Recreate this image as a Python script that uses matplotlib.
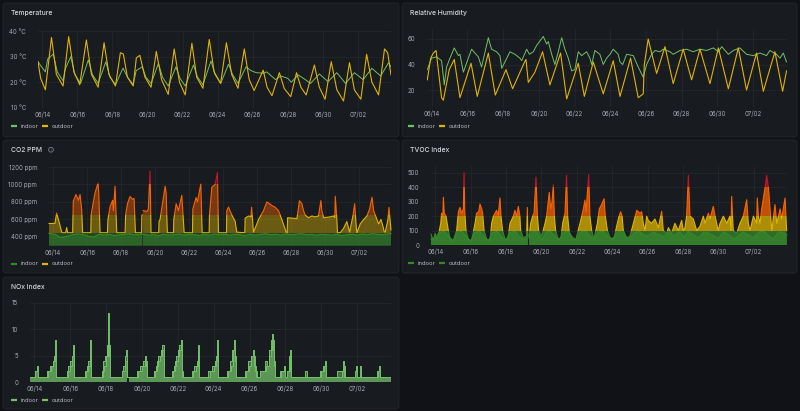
import matplotlib.pyplot as plt
import matplotlib.dates as mdates
import numpy as np
from datetime import datetime
from matplotlib.patches import FancyBboxPatch, Rectangle, Circle
from matplotlib.lines import Line2D
from matplotlib.ticker import FuncFormatter
from matplotlib.transforms import IdentityTransform

plt.rcParams['font.family'] = ['Inter', 'DejaVu Sans']

# Zeit: Tage ab 06/14 00:00
T0 = mdates.date2num(datetime(2025, 6, 14))
X_RANGE = (-0.25, 19.89)
nan = np.nan

# ---------------- Daten (Tag, Wert) ----------------
TEMP_IN = [(-0.25, 28), (-0.1, 26.5), (0.17, 24), (0.3, 29), (0.62, 31), (0.85, 24), (1.18, 20.5),
           (1.3, 25), (1.62, 30), (1.85, 23), (2.18, 19.5), (2.62, 28.7), (2.85, 23), (3.18, 19.5),
           (3.62, 28), (3.85, 22), (4.17, 19), (4.6, 25.5), (4.85, 22), (5.18, 19), (5.35, 24.5),
           (5.7, 26), (5.9, 22), (6.2, 19.5), (6.62, 27.3), (6.85, 22), (7.18, 18.5), (7.62, 26),
           (7.85, 21.5), (8.15, 18.5), (8.62, 26.7), (8.85, 22), (9.16, 19), (9.62, 28.3), (9.85, 23),
           (10.17, 19.5), (10.62, 27), (10.85, 23), (11.16, 19.5), (11.62, 26), (11.9, 24.5),
           (12.2, 23.7), (12.6, 23.5), (12.8, 24), (13.3, 21), (13.6, 22.4), (14.0, 21.5), (14.2, 20),
           (14.6, 22.8), (15.0, 21), (15.3, 19.5), (15.8, 23.2), (16.3, 20.2), (16.8, 23.7),
           (17.3, 19.5), (17.8, 23.7), (18.3, 21), (18.8, 25.4), (19.3, 22.4), (19.75, 27.6), (19.89, 26)]
TEMP_OUT = [(-0.25, 28), (-0.1, 21.5), (0.17, 17), (0.52, 37.5), (0.8, 23), (1.18, 18.5), (1.5, 37.8),
            (1.8, 24), (2.13, 19), (2.51, 36.5), (2.8, 23), (3.18, 18), (3.52, 35.4), (3.8, 23),
            (4.17, 18.5), (4.45, 31.5), (4.62, 31), (4.85, 22), (5.18, 18.5), (5.36, 29.5), (5.56, 30.5),
            (5.85, 22), (6.2, 18), (6.5, 32), (6.8, 21), (7.18, 15.2), (7.52, 33), (7.82, 20), (8.15, 15),
            (8.53, 35.2), (8.8, 22), (9.16, 17.6), (9.52, 36.7), (9.8, 24), (10.17, 19.5), (10.5, 35.4),
            (10.8, 23), (11.16, 17.6), (11.52, 33), (11.8, 21), (12.08, 16.7), (12.6, 24.7), (12.82, 18),
            (13.1, 14.7), (13.52, 23.7), (13.8, 17.5), (14.17, 14.3), (14.5, 23.7), (14.75, 18),
            (15.05, 15), (15.52, 26.7), (15.8, 18), (16.13, 13.3), (16.48, 28), (16.8, 17), (17.18, 12.6),
            (17.52, 27.6), (17.8, 17), (18.17, 13.3), (18.5, 30.9), (18.8, 20), (19.18, 15), (19.52, 33),
            (19.7, 31.5), (19.89, 22.8)]

HUM_IN = [(-0.25, 36), (-0.01, 45), (0.27, 46), (0.55, 43), (0.7, 24), (0.83, 38), (1.02, 45), (1.26, 53),
          (1.49, 47), (1.58, 48), (1.77, 34), (2.05, 45), (2.23, 52), (2.61, 46), (2.79, 38), (3.17, 61),
          (3.35, 52), (3.63, 50), (3.82, 47), (3.92, 37), (4.1, 42), (4.38, 50), (4.66, 48), (4.94, 45),
          (5.04, 43), (5.32, 52), (5.47, 48), (5.69, 50), (5.88, 55), (6.25, 62), (6.44, 56), (6.53, 58),
          (6.72, 48), (6.9, 40), (7.09, 50), (7.28, 61), (7.46, 52), (7.65, 45), (7.84, 35), (8.02, 36),
          (8.21, 50), (8.4, 47), (8.68, 50), (8.86, 45), (8.96, 40), (9.14, 51), (9.42, 48), (9.61, 40),
          (9.8, 45), (9.99, 48), (10.17, 52), (10.45, 48), (10.55, 42), (10.7, 40), (10.92, 48),
          (11.29, 47), (11.57, 38), (11.85, 30), (12.04, 40), (12.32, 48), (12.51, 51), (12.79, 50),
          (12.97, 52), (13.35, 50), (13.53, 48), (13.91, 51), (14.28, 52), (14.65, 50), (15.03, 52),
          (15.4, 51), (15.78, 53), (16.06, 50), (16.25, 54), (16.62, 48), (16.9, 51), (17.27, 53),
          (17.64, 48), (18.02, 47), (18.39, 49), (18.76, 47), (18.95, 51), (19.32, 48), (19.51, 45),
          (19.7, 49), (19.88, 42)]
HUM_OUT = [(-0.25, 28), (-0.06, 45), (0.09, 49), (0.24, 51), (0.55, 14), (0.65, 12), (0.98, 36),
           (1.26, 44), (1.58, 14), (2.2, 41), (2.55, 15), (3.17, 49), (3.56, 16), (4.16, 36), (4.53, 21),
           (5.17, 41), (5.28, 44), (5.41, 26), (5.78, 34), (6.21, 50), (6.62, 24), (7.22, 49), (7.56, 13),
           (8.21, 41), (8.55, 15), (9.05, 42), (9.61, 17), (10.17, 43), (10.55, 15), (11.14, 45),
           (11.57, 14), (11.85, 17), (11.91, 40), (12.13, 60), (12.6, 33), (13.07, 54), (13.53, 25),
           (14.09, 52), (14.56, 28), (15.03, 52), (15.59, 25), (16.06, 53), (16.62, 21), (17.18, 53),
           (17.64, 20), (18.2, 49), (18.58, 19), (19.23, 50), (19.66, 19), (19.88, 35)]

CO2_IN = [(-0.25, 440), (0.1, 430), (0.4, 395), (0.6, 400), (0.9, 410), (1.2, 430), (1.5, 435),
          (1.8, 425), (2.1, 405), (2.4, 400), (2.7, 430), (3.0, 420), (3.3, 430), (3.6, 415), (3.9, 425),
          (4.2, 430), (4.5, 438), (4.8, 425), (5.1, 430), (5.25, 435), (5.27, nan), (5.29, 430),
          (5.6, 420), (5.9, 425), (6.2, 415), (6.5, 430), (6.8, 420), (7.1, 425), (7.4, 435), (7.7, 420),
          (8.0, 430), (8.3, 425), (8.6, 415), (8.9, 430), (9.2, 420), (9.5, 435), (9.8, 425), (10.1, 430),
          (10.4, 420), (10.7, 430), (11.0, 425), (11.3, 415), (11.6, 430), (11.9, 420), (12.2, 430),
          (12.5, 438), (12.8, 425), (13.1, 430), (13.4, 420), (13.7, 435), (14.0, 425), (14.3, 430),
          (14.6, 438), (14.9, 425), (15.2, 430), (15.5, 420), (15.8, 430), (16.1, 425), (16.4, 420),
          (16.7, 430), (17.0, 415), (17.3, 425), (17.6, 430), (17.9, 420), (18.2, 435), (18.5, 425),
          (18.8, 438), (19.1, 430), (19.4, 425), (19.7, 436), (19.89, 438)]
CO2_OUT = [(-0.25, 554), (0.1, 555), (0.2, 673), (0.36, 560), (0.5, 455), (0.55, 448), (0.73, 448),
           (0.79, 508), (0.85, 448), (1.14, 448), (1.18, 808), (1.34, 885), (1.48, 820), (1.58, 885),
           (1.68, 700), (1.73, 448), (2.21, 448), (2.23, 650), (2.36, 800), (2.46, 904), (2.6, 992),
           (2.64, 1019), (2.68, 900), (2.76, 448), (3.19, 448), (3.22, 600), (3.35, 750), (3.5, 820),
           (3.54, 700), (3.64, 981), (3.74, 448), (4.23, 448), (4.26, 650), (4.37, 780), (4.52, 862),
           (4.68, 830), (4.76, 840), (4.84, 448), (5.2, 448), (5.22, 650), (5.25, 655), (5.27, nan),
           (5.29, 700), (5.35, 700), (5.51, 690), (5.6, 720), (5.7, 1154), (5.76, 448), (6.21, 448),
           (6.23, 577), (6.29, 600), (6.45, 800), (6.59, 981), (6.65, 900), (6.72, 448), (7.08, 448),
           (7.1, 600), (7.24, 780), (7.37, 700), (7.57, 877), (7.71, 448), (8.2, 448), (8.22, 720),
           (8.41, 850), (8.49, 800), (8.69, 1008), (8.77, 448), (9.18, 448), (9.2, 650), (9.34, 969),
           (9.53, 1000), (9.67, 1135), (9.73, 448), (10.2, 448), (10.22, 700), (10.32, 742), (10.52, 650),
           (10.71, 580), (10.81, 455), (11.28, 448), (11.3, 615), (11.5, 640), (11.64, 630), (11.68, 740),
           (11.79, 455), (11.89, 500), (12.09, 600), (12.38, 700), (12.58, 800), (12.68, 790),
           (12.87, 760), (13.07, 740), (13.27, 700), (13.46, 600), (13.72, 455), (13.78, 448),
           (13.8, 620), (14.35, 610), (14.5, 815), (14.64, 780), (14.74, 700), (14.84, 650), (15.03, 620),
           (15.23, 640), (15.43, 630), (15.62, 640), (15.76, 815), (15.82, 700), (15.92, 620),
           (16.31, 630), (16.51, 640), (16.58, 620), (16.61, 865), (16.7, 600), (16.74, 448), (16.9, 448),
           (17.1, 500), (17.29, 577), (17.45, 455), (17.65, 642), (17.75, 780), (17.85, 500), (17.88, 448),
           (18.08, 550), (18.28, 600), (18.47, 640), (18.63, 720), (18.77, 854), (18.87, 700),
           (19.06, 600), (19.16, 550), (19.3, 600), (19.42, 520), (19.49, 460), (19.55, 455), (19.71, 600),
           (19.77, 738), (19.89, 480)]

TVOC_IN = [(-0.25, 75), (-0.12, 30), (-0.02, 80), (0.07, 40), (0.16, 60), (0.22, 100), (0.3, 150),
           (0.35, 220), (0.42, 200), (0.45, 330), (0.5, 220), (0.6, 200), (0.73, 100), (0.82, 50),
           (1.01, 30), (1.2, 100), (1.3, 230), (1.39, 260), (1.48, 220), (1.58, 250), (1.62, 500),
           (1.66, 230), (1.73, 100), (1.86, 40), (2.05, 30), (2.24, 150), (2.33, 220), (2.45, 230),
           (2.52, 283), (2.62, 250), (2.67, 220), (2.75, 100), (2.9, 40), (3.1, 35), (3.18, 150),
           (3.28, 200), (3.46, 240), (3.55, 200), (3.65, 325), (3.71, 200), (3.8, 100), (3.94, 40),
           (4.1, 45), (4.22, 150), (4.41, 200), (4.5, 240), (4.6, 200), (4.69, 267), (4.78, 200),
           (4.82, 100), (4.97, 50), (5.16, 60), (5.2, 260), (5.23, 60), (5.26, nan), (5.3, 60),
           (5.39, 150), (5.5, 200), (5.58, 220), (5.69, 470), (5.77, 200), (5.84, 100), (6.01, 60),
           (6.2, 150), (6.29, 200), (6.44, 364), (6.52, 250), (6.6, 300), (6.67, 417), (6.73, 200),
           (6.8, 100), (6.95, 40), (7.1, 50), (7.2, 150), (7.33, 220), (7.42, 481), (7.48, 200),
           (7.56, 100), (7.71, 40), (7.95, 40), (8.18, 150), (8.37, 250), (8.46, 311), (8.52, 230),
           (8.67, 486), (8.74, 200), (8.84, 100), (8.97, 40), (9.16, 150), (9.27, 250), (9.4, 280),
           (9.54, 320), (9.61, 200), (9.73, 100), (9.88, 50), (10.1, 45), (10.29, 150), (10.39, 200),
           (10.48, 230), (10.56, 200), (10.63, 100), (10.82, 50), (11.0, 60), (11.2, 150), (11.39, 240),
           (11.57, 220), (11.67, 230), (11.76, 150), (11.86, 100), (11.95, 200), (12.04, 170),
           (12.23, 150), (12.42, 180), (12.61, 120), (12.8, 233), (12.89, 100), (13.08, 80), (13.18, 120),
           (13.36, 80), (13.55, 150), (13.74, 100), (13.93, 170), (14.02, 100), (14.12, 120), (14.21, 200),
           (14.31, 481), (14.4, 200), (14.59, 180), (14.78, 100), (14.97, 130), (15.16, 200), (15.25, 150),
           (15.44, 220), (15.53, 180), (15.72, 267), (15.82, 200), (16.0, 100), (16.1, 150), (16.29, 200),
           (16.48, 150), (16.66, 200), (16.72, 100), (16.76, 336), (16.85, 100), (17.04, 80), (17.23, 150),
           (17.42, 200), (17.61, 313), (17.7, 150), (17.8, 100), (17.99, 200), (18.17, 150), (18.21, 325),
           (18.27, 200), (18.36, 150), (18.46, 250), (18.55, 320), (18.65, 400), (18.74, 481), (18.84, 400),
           (18.93, 250), (19.03, 100), (19.21, 280), (19.31, 150), (19.5, 250), (19.59, 180), (19.78, 325),
           (19.87, 100)]
TVOC_OUT = [(-0.25, 40), (0.0, 50), (0.2, 85), (0.5, 95), (0.75, 60), (1.0, 25), (1.2, 90), (1.5, 95),
            (1.75, 55), (2.0, 25), (2.2, 85), (2.5, 95), (2.75, 55), (3.0, 25), (3.2, 85), (3.5, 95),
            (3.75, 55), (4.0, 30), (4.2, 85), (4.5, 95), (4.75, 60), (5.0, 35), (5.23, 50), (5.26, nan),
            (5.3, 45), (5.45, 90), (5.7, 95), (5.9, 55), (6.05, 35), (6.25, 90), (6.5, 95), (6.8, 55),
            (7.0, 30), (7.25, 90), (7.5, 95), (7.75, 55), (8.0, 30), (8.2, 90), (8.5, 95), (8.8, 55),
            (9.0, 35), (9.2, 90), (9.5, 95), (9.8, 55), (10.0, 35), (10.3, 90), (10.5, 95), (10.8, 50),
            (11.0, 40), (11.2, 80), (11.5, 95), (11.8, 70), (12.0, 60), (12.3, 90), (12.6, 75), (12.9, 60),
            (13.2, 85), (13.5, 65), (13.8, 90), (14.1, 55), (14.3, 95), (14.6, 70), (14.9, 50), (15.2, 90),
            (15.5, 80), (15.8, 60), (16.0, 45), (16.3, 90), (16.6, 70), (16.9, 40), (17.1, 60), (17.4, 90),
            (17.7, 70), (18.0, 50), (18.3, 90), (18.6, 95), (18.9, 60), (19.1, 40), (19.4, 90), (19.7, 85),
            (19.89, 70)]

NOX_IN = [(-0.25, 1), (0.03, 2), (0.15, 3), (0.22, 1), (0.68, 2), (0.72, 1), (0.77, 2), (0.87, 3),
          (1.01, 4), (1.11, 5), (1.16, 8), (1.2, 1), (1.8, 2), (1.89, 3), (1.98, 4), (2.07, 5), (2.15, 7),
          (2.2, 1), (2.82, 2), (2.91, 3), (3.0, 4), (3.1, 8), (3.15, 1), (3.75, 2), (3.85, 4), (3.93, 5),
          (4.03, 7), (4.12, 13), (4.16, 5), (4.22, 1), (4.86, 2), (4.96, 3), (5.05, 5), (5.1, 6), (5.16, 1),
          (5.24, nan), (5.27, 1), (5.7, 2), (5.89, 3), (6.07, 4), (6.18, 5), (6.24, 3), (6.3, 1), (6.67, 2),
          (6.78, 3), (6.91, 5), (7.04, 6), (7.13, 7), (7.2, 3), (7.25, 1), (7.69, 2), (7.78, 3), (7.9, 5),
          (8.08, 7), (8.18, 8), (8.24, 2), (8.28, 1), (8.77, 2), (8.92, 3), (9.05, 4), (9.15, 7), (9.2, 1),
          (9.7, 2), (9.89, 3), (10.07, 4), (10.18, 8), (10.24, 1), (10.72, 2), (10.91, 4), (11.04, 6),
          (11.13, 8), (11.2, 5), (11.25, 1), (11.75, 2), (11.93, 4), (12.06, 5), (12.18, 6), (12.27, 3),
          (12.35, 1), (12.58, 2), (12.86, 4), (12.95, 3), (13.1, 6), (13.25, 9), (13.32, 6), (13.38, 3),
          (13.42, 1), (13.7, 2), (13.92, 3), (13.97, 1), (14.07, 2), (14.24, 6), (14.29, 1), (15.09, 2),
          (15.2, 1), (15.93, 2), (16.12, 3), (16.23, 4), (16.28, 1), (16.86, 2), (17.21, 4), (17.28, 1),
          (17.88, 2), (17.93, 3), (17.98, 1), (18.16, 3), (18.22, 1), (19.09, 2), (19.22, 3), (19.27, 1),
          (19.89, 1)]
NOX_OUT = [(-0.25, 1), (0.05, 2), (0.2, 1), (0.75, 2), (0.9, 3), (1.05, 4), (1.15, 6), (1.2, 1),
           (1.85, 2), (2.0, 3), (2.12, 5), (2.2, 1), (2.85, 2), (3.0, 3), (3.1, 5), (3.15, 1), (3.8, 2),
           (3.9, 3), (4.0, 5), (4.1, 7), (4.2, 1), (4.9, 2), (5.05, 4), (5.15, 1), (5.24, nan), (5.27, 1),
           (5.8, 2), (6.0, 3), (6.15, 4), (6.28, 1), (6.72, 2), (6.85, 4), (7.0, 5), (7.12, 6), (7.22, 1),
           (7.72, 2), (7.85, 4), (8.0, 6), (8.15, 7), (8.25, 1), (8.85, 2), (9.0, 3), (9.12, 5), (9.2, 1),
           (9.8, 2), (10.0, 3), (10.15, 5), (10.22, 1), (10.8, 2), (10.95, 3), (11.08, 6), (11.2, 4),
           (11.25, 1), (11.8, 2), (11.95, 3), (12.1, 5), (12.3, 2), (12.4, 1), (12.6, 2), (12.9, 3),
           (13.1, 5), (13.22, 8), (13.35, 4), (13.42, 1), (13.75, 2), (13.95, 1), (14.1, 2), (14.22, 5),
           (14.29, 1), (16.0, 2), (16.15, 3), (16.28, 1), (17.15, 2), (17.25, 3), (17.3, 1), (17.9, 2),
           (17.98, 1), (18.15, 2), (18.22, 1), (19.15, 2), (19.27, 1), (19.89, 1)]

# Grafana Farben
BG = '#111217'
PANEL = '#181b1f'
BORDER = '#24272c'
GRID = '#26292e'
TICK = '#a9aab4'
TITLE = '#d4d5dc'
GREEN = '#73BF69'
DGREEN = '#37872D'
DYELLOW = '#E0B400'
DORANGE = '#FA6400'
DRED = '#C4162A'

W, H = 800, 411
fig = plt.figure(figsize=(W / 100, H / 100), dpi=100)
fig.patch.set_facecolor(BG)


def series(pairs):
    a = np.array(pairs, dtype=float)
    return T0 + a[:, 0], a[:, 1]


def panel(x, y, w, h, title):
    p = FancyBboxPatch((x, H - y - h), w, h, boxstyle='round,pad=0,rounding_size=3',
                       transform=IdentityTransform(), fc=PANEL, ec=BORDER, lw=0.6, zorder=-5)
    fig.add_artist(p)
    fig.text((x + 8) / W, 1 - (y + 10) / H, title, color=TITLE, fontsize=4.9,
             fontweight='medium', va='center', ha='left')


def make_ax(l, t, r, b, ylim, yticks, unit=''):
    ax = fig.add_axes([l / W, 1 - b / H, (r - l) / W, (b - t) / H])
    ax.set_facecolor('none')
    ax.set_xlim(T0 + X_RANGE[0], T0 + X_RANGE[1])
    ax.set_ylim(*ylim)
    ax.set_yticks(yticks)
    ax.yaxis.set_major_formatter(FuncFormatter(lambda v, p: f'{v:.0f}{unit}'))
    ax.xaxis.set_major_locator(mdates.DayLocator(bymonthday=range(2, 32, 2)))
    ax.xaxis.set_major_formatter(mdates.DateFormatter('%m/%d'))
    ax.tick_params(length=0, labelsize=4.4, colors=TICK)
    ax.tick_params(axis='y', pad=8.5)
    ax.tick_params(axis='x', pad=2.4)
    for s in ax.spines.values():
        s.set_visible(False)
    ax.grid(True, color=GRID, lw=0.5)
    ax.set_axisbelow(True)
    return ax


def legend(x, y, items):
    for i, (label, col) in enumerate(items):
        x0 = x + i * 31
        fig.add_artist(Line2D([x0 / W, (x0 + 5.5) / W], [1 - y / H] * 2, transform=fig.transFigure,
                              color=col, lw=1.6, solid_capstyle='butt'))
        fig.text((x0 + 9.3) / W, 1 - y / H, label, color='#bcbdc6', fontsize=4.2, va='center', ha='left')


def banded(ax, x, y, bands, base, alpha, lw=0.8):
    # Schwellwert-Farben: Fläche und Linie je Band einfärben
    for lo, hi, col in bands:
        clip = Rectangle((x[0] - 5, lo), 40, hi - lo, transform=ax.transData)
        f = ax.fill_between(x, base, y, color=col, alpha=alpha, lw=0)
        f.set_clip_path(clip)
        ln, = ax.plot(x, y, color=col, lw=lw)
        ln.set_clip_path(clip)


# Panels
panel(3, 3, 396, 134, 'Temperature')
panel(402, 3, 395, 134, 'Relative Humidity')
panel(3, 140, 396, 133, 'CO2 PPM')
panel(402, 140, 395, 133, 'TVOC Index')
panel(3, 277, 396, 132, 'NOx Index')

# Info-Symbol neben CO2 PPM
fig.add_artist(Circle((51, H - 149.7), 2.4, transform=IdentityTransform(), fill=False,
                      ec='#8e8f99', lw=0.5))
fig.text(51 / W, 1 - 149.9 / H, 'i', color='#8e8f99', fontsize=2.6, ha='center', va='center')

# Temperature
ax = make_ax(38, 29.5, 391, 107.7, (10, 40.6), [10, 20, 30, 40], ' °C')
x, y = series(TEMP_IN)
ax.plot(x, y, color=GREEN, lw=0.7)
x, y = series(TEMP_OUT)
ax.plot(x, y, color=DYELLOW, lw=0.8)
legend(11, 126.5, [('indoor', GREEN), ('outdoor', DYELLOW)])

# Relative Humidity
ax = make_ax(427.3, 29.3, 786.7, 107, (6.7, 67.6), [20, 40, 60])
x, y = series(HUM_IN)
ax.plot(x, y, color=GREEN, lw=0.7)
x, y = series(HUM_OUT)
ax.plot(x, y, color=DYELLOW, lw=0.8)
legend(408, 126.3, [('indoor', GREEN), ('outdoor', DYELLOW)])

# CO2
co2_bands = [(-1e4, 442, DGREEN), (442, 650, DYELLOW), (650, 1000, DORANGE), (1000, 1e4, DRED)]
ax = make_ax(49, 167, 391, 245.7, (300, 1200), [400, 600, 800, 1000, 1200], ' ppm')
x, y = series(CO2_IN)
banded(ax, x, y, co2_bands, 300, 0.45)
x, y = series(CO2_OUT)
banded(ax, x, y, co2_bands, 300, 0.42)
legend(11, 263.7, [('indoor', DGREEN), ('outdoor', DYELLOW)])

# TVOC
tvoc_bands = [(-1e4, 100, DGREEN), (100, 200, DYELLOW), (200, 400, DORANGE), (400, 1e4, DRED)]
ax = make_ax(431, 166.3, 787, 245, (0, 544), [0, 100, 200, 300, 400, 500])
x, y = series(TVOC_OUT)
banded(ax, x, y, tvoc_bands, 0, 0.7)
x, y = series(TVOC_IN)
banded(ax, x, y, tvoc_bands, 0, 0.75)
legend(408, 263.2, [('indoor', DGREEN), ('outdoor', DGREEN)])

# NOx: ganzzahlige Werte -> Stufen
ax = make_ax(30, 302.7, 391, 382, (0, 15), [0, 5, 10, 15])
for pairs in (NOX_OUT, NOX_IN):
    x, y = series(pairs)
    ax.fill_between(x, 0, y, step='post', color=GREEN, alpha=0.5, lw=0)
    ax.plot(x, y, drawstyle='steps-post', color=GREEN, lw=0.7)
legend(11, 400, [('indoor', GREEN), ('outdoor', GREEN)])

fig.savefig('out.png', dpi=100, facecolor=BG)
